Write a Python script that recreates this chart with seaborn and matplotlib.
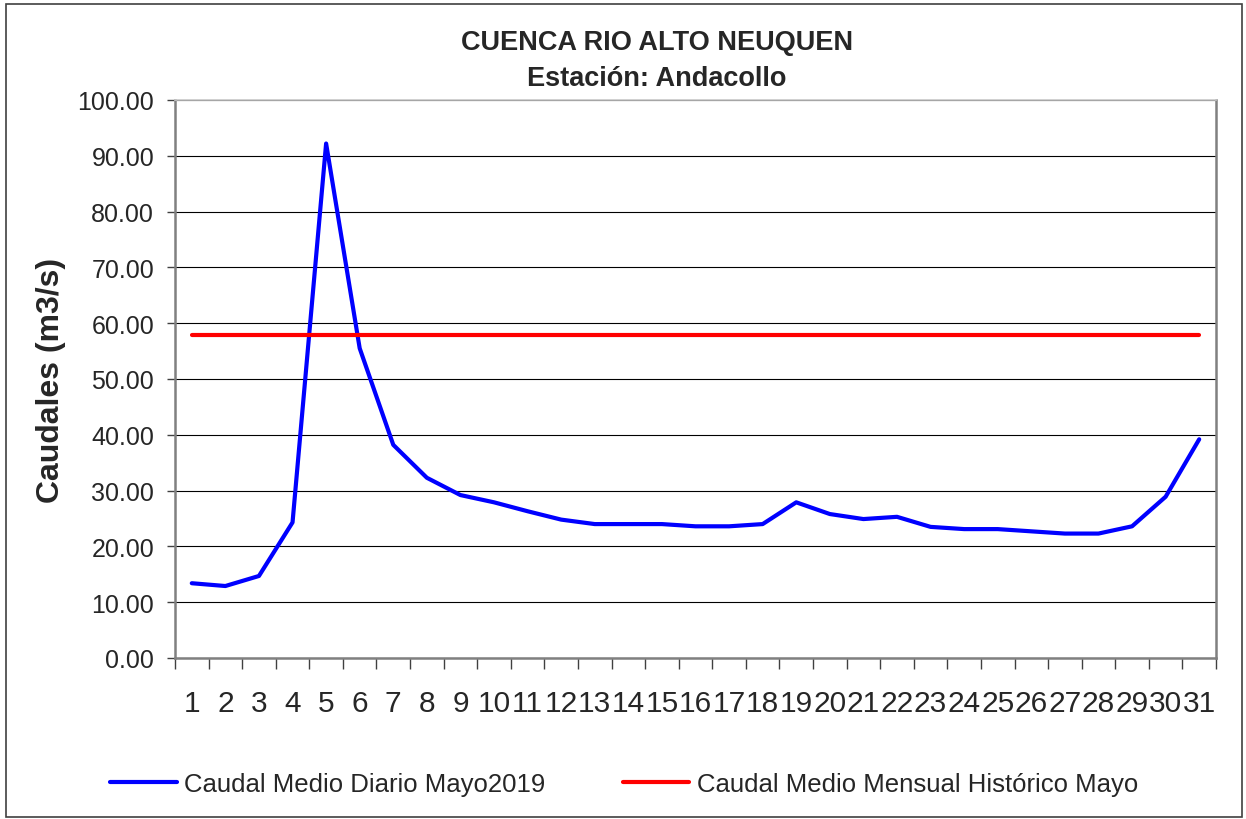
import matplotlib
matplotlib.use("Agg")
import matplotlib.pyplot as plt
import seaborn as sns
import pandas as pd
import numpy as np
from matplotlib.patches import Rectangle
from matplotlib.lines import Line2D
from matplotlib.ticker import FixedLocator, FormatStrFormatter

# ---- data ----
dias = [str(d) for d in range(1, 32)]
caudal_diario = [13.4, 12.9, 14.7, 24.3, 92.2, 55.5, 38.2, 32.3, 29.2, 27.9,
                 26.3, 24.8, 24.0, 24.0, 24.0, 23.6, 23.6, 24.0, 27.9, 25.8,
                 24.9, 25.3, 23.5, 23.1, 23.1, 22.7, 22.3, 22.3, 23.6, 28.9,
                 39.2]
caudal_historico = 57.8
serie_diaria = "Caudal Medio Diario Mayo2019"
serie_historica = "Caudal Medio Mensual Histórico Mayo"
titulo = "CUENCA RIO ALTO NEUQUEN\nEstación: Andacollo"
ylabel = "Caudales (m3/s)"

sns.set_style("white")
plt.rcParams['font.family'] = ['Liberation Sans', 'DejaVu Sans']

df = pd.DataFrame({
    "dia": dias + dias,
    "pos": list(range(len(dias))) * 2,
    "caudal": caudal_diario + [caudal_historico] * len(dias),
    "serie": [serie_diaria] * len(dias) + [serie_historica] * len(dias),
})

fig = plt.figure(figsize=(12.46, 8.2), dpi=100)
ax = fig.add_axes([175/1246, 1 - 659/820, (1216-175)/1246, (659-101)/820])

sns.lineplot(data=df, x="pos", y="caudal", hue="serie",
             hue_order=[serie_diaria, serie_historica],
             palette={serie_diaria: "#0000ff", serie_historica: "#ff0000"},
             linewidth=3, ax=ax, legend=False, sort=False)

ax.set_xlim(-0.5, len(dias) - 0.5)
ax.set_ylim(0, 100)

# y axis
ax.set_yticks(np.arange(0, 101, 10))
ax.yaxis.set_major_formatter(FormatStrFormatter("%.2f"))
ax.tick_params(axis="y", which="major", length=6, width=1, color="#404040",
               labelsize=18, pad=9, direction="out", left=True)
ax.grid(axis="y", color="black", linewidth=0.8)
ax.set_axisbelow(True)

# x axis
ax.set_xticks(range(len(dias)))
ax.set_xticklabels(dias)
ax.xaxis.set_minor_locator(FixedLocator(np.arange(-0.5, len(dias), 1.0)))
ax.tick_params(axis="x", which="major", length=0, labelsize=21.5, pad=22)
ax.tick_params(axis="x", which="minor", length=8, width=1, color="#404040",
               direction="out", bottom=True)

ax.set_xlabel("")
ax.set_ylabel(ylabel, fontsize=23, fontweight="bold", labelpad=8)

for s in ["left", "bottom", "right"]:
    ax.spines[s].set_color("#808080")
    ax.spines[s].set_linewidth(1.8)
ax.spines["top"].set_color("#c8c8c8")
ax.spines["top"].set_linewidth(1.2)

fig.text(657/1246, 1 - 61/820, titulo, ha="center", va="center",
         fontsize=19.5, fontweight="bold", linespacing=1.55)

# legend
handles = [Line2D([], [], color="#0000ff", linewidth=3),
           Line2D([], [], color="#ff0000", linewidth=3)]
fig.legend(handles, [serie_diaria, serie_historica], loc="center",
           bbox_to_anchor=(624/1246, 1 - 785/820), ncol=2, frameon=False,
           fontsize=18.5, handlelength=2.6, handletextpad=0.3,
           columnspacing=3.0)

# figure border
fig.patches.append(Rectangle((0.005, 0.002), 0.992, 0.992, transform=fig.transFigure,
                             fill=False, edgecolor="#404040", linewidth=1.2))

fig.savefig("out.png", dpi=100)
